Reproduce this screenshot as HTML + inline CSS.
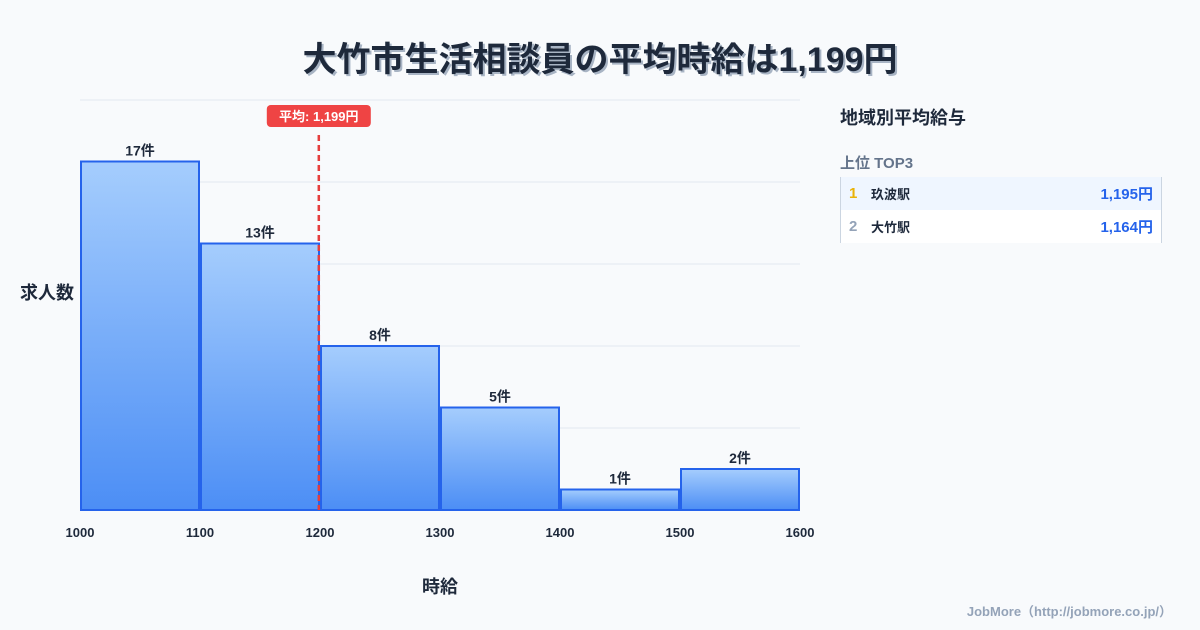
<!DOCTYPE html>
<html><head><meta charset="utf-8"><style>
body{margin:0;width:1200px;height:630px;background:#f8fafc;font-family:"Liberation Sans","Noto Sans CJK JP",sans-serif;overflow:hidden;position:relative}
#title{position:absolute;top:32px;left:0;width:1200px;text-align:center;font-size:34px;font-weight:bold;color:#1e293b;text-shadow:2px 2px 0 #a8b4c4}
#side{position:absolute;left:840px;top:104px;width:322px}
.h{font-size:18px;font-weight:bold;color:#1e293b}
.s{font-size:15px;font-weight:bold;color:#64748b;margin-top:22px}
.tbl{margin-top:4px;border-left:1px solid #cbd5e1;border-right:1px solid #cbd5e1}
.row{height:33px;display:flex;align-items:center;font-size:13px;font-weight:bold;color:#1e293b;padding:0 8px}
.row .n{width:22px;font-size:15px}.row .v{margin-left:auto;color:#2563eb;font-size:15px}
#foot{position:absolute;right:28px;bottom:10px;font-size:13px;font-weight:bold;color:#94a3b8}
</style></head><body>
<div id="title">大竹市生活相談員の平均時給は1,199円</div>
<svg id="chart" width="1200" height="630" style="position:absolute;left:0;top:0"></svg>
<div id="side">
<div class="h">地域別平均給与</div>
<div class="s">上位 TOP3</div>
<div class="tbl">
<div class="row" style="background:#eff6ff"><span class="n" style="color:#eab308">1</span><span>玖波駅</span><span class="v">1,195円</span></div>
<div class="row" style="background:#fff"><span class="n" style="color:#94a3b8">2</span><span>大竹駅</span><span class="v">1,164円</span></div>
</div></div>
<div id="foot">JobMore（http://jobmore.co.jp/）</div>
<script>
const binStarts=[1000,1100,1200,1300,1400,1500];
const counts=[17,13,8,5,1,2];
const xTicks=[1000,1100,1200,1300,1400,1500,1600];
const yGrid=[0,4,8,12,16,20];
const meanValue=1199;
const meanLabel="平均: 1,199円";
const NS="http://www.w3.org/2000/svg",svg=document.getElementById('chart');
const X=v=>80+(v-1000)*1.2, Y=v=>510-v*20.5;
function mk(t,a,p){const e=document.createElementNS(NS,t);for(const k in a)e.setAttribute(k,a[k]);(p||svg).appendChild(e);return e;}
const defs=mk('defs',{});const g=mk('linearGradient',{id:'bg',x1:0,y1:0,x2:0,y2:1},defs);
mk('stop',{offset:0,'stop-color':'#a5cdfd'},g);mk('stop',{offset:1,'stop-color':'#4c8ef5'},g);
yGrid.forEach(v=>{const l=mk('line',{x1:80,x2:800,y1:Y(v),y2:Y(v),stroke:'#e2e8f0'});

});
binStarts.forEach((b,i)=>{const r=mk('rect',{x:X(b)+1,y:Y(counts[i]),width:X(b+100)-X(b)-2,height:Y(0)-Y(counts[i]),fill:'url(#bg)',stroke:'#2563eb','stroke-width':2});


const t=mk('text',{x:X(b+50),y:Y(counts[i])-6,'text-anchor':'middle','font-size':14,'font-weight':'bold',fill:'#1e293b'});t.textContent=counts[i]+'件';

});
xTicks.forEach(v=>{const t=mk('text',{x:X(v),y:537,'text-anchor':'middle','font-size':13,'font-weight':'bold',fill:'#1e293b'});t.textContent=v;

});
const ml=mk('line',{x1:X(meanValue),x2:X(meanValue),y1:135,y2:510,stroke:'#e53e3e','stroke-width':2.5,'stroke-dasharray':'6,4'});


const mr=mk('rect',{x:X(meanValue)-52,y:105,width:104,height:22,rx:4,fill:'#ef4444'});


const mt=mk('text',{x:X(meanValue),y:121,'text-anchor':'middle','font-size':13,'font-weight':'bold',fill:'#fff'});mt.textContent=meanLabel;


const yt=mk('text',{x:20,y:299,'font-size':18,'font-weight':'bold',fill:'#1e293b'});yt.textContent='求人数';


const xt=mk('text',{x:440,y:593,'text-anchor':'middle','font-size':18,'font-weight':'bold',fill:'#1e293b'});xt.textContent='時給';


</script>
</body></html>
